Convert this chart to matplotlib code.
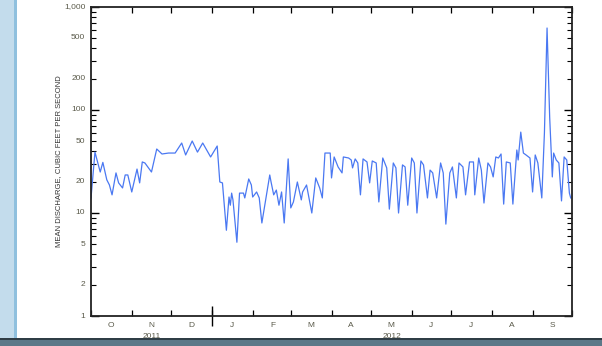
import numpy as np
import pandas as pd
import matplotlib
matplotlib.use('Agg')
import matplotlib.pyplot as plt
import matplotlib.dates as mdates
from matplotlib.ticker import FixedLocator, NullFormatter
from matplotlib.patches import Rectangle

#-------------------------------------------------------------------------------
# daily mean discharge, water year 2012 (days counted from 2011-10-01)
#-------------------------------------------------------------------------------
day_offsets = [0, 3, 7, 9, 12, 14, 16, 19, 21, 24, 26, 28, 31, 35, 37, 39, 41, 46,
               50, 54, 59, 64, 69, 72, 77, 81, 85, 91, 96, 98, 100, 103, 105, 106,
               107, 108, 111, 113, 116, 117, 120, 122, 123, 126, 128, 130, 136, 137,
               139, 141, 143, 145, 147, 150, 152, 154, 157, 160, 161, 164, 168, 171,
               174, 176, 178, 182, 183, 185, 188, 191, 192, 196, 198, 199, 201, 203,
               205, 207, 210, 212, 214, 217, 219, 222, 225, 227, 230, 232, 234, 237,
               239, 241, 244, 246, 248, 251, 253, 256, 258, 260, 263, 266, 268, 270,
               273, 275, 278, 280, 283, 285, 288, 291, 292, 295, 297, 299, 302, 304,
               306, 308, 310, 312, 314, 316, 319, 321, 324, 325, 327, 329, 331, 334,
               336, 338, 340, 343, 345, 347, 349, 351, 352, 354, 356, 358, 360, 362,
               364, 365]
discharge = [14, 39, 25, 31, 21, 18.7, 15, 24.5, 19.6, 17.5, 23.4, 23.4, 16, 26.7, 19.6,
             31.3, 30.6, 25, 41.8, 37.4, 38.2, 38.2, 47.8, 36.6, 50, 39, 47.8, 35, 44.7,
             20, 19.6, 6.8, 14.3, 11.9, 15.6, 13.4, 5.2, 15.6, 15.6, 14, 21.4, 18.7,
             14.3, 16, 14, 8, 23.4, 20, 15, 16.7, 11.9, 16, 8, 33.5, 11.2, 12.8, 20,
             13.4, 16, 18.7, 10, 21.9, 17.5, 14, 38.2, 38.2, 21.9, 35, 28, 24.5, 35,
             34.2, 32.7, 27.4, 33.5, 30.6, 15, 33.5, 31.3, 19.6, 32, 30.6, 12.8, 34.2,
             27.4, 10.9, 30.6, 27.4, 10, 29.3, 28, 11.9, 34.2, 30.6, 10, 32, 29.3, 14,
             26.1, 24.5, 14, 30.6, 24.5, 7.8, 24.5, 28, 14, 30.6, 28, 15, 31.3, 31.3,
             15, 34.2, 26.1, 12.5, 30.6, 28, 22.4, 35, 34.2, 37.4, 12.2, 31.3, 30.6,
             12.2, 40.9, 32.7, 61, 38.2, 36.6, 34.2, 16, 36.6, 30.6, 14, 60, 625, 85,
             22.4, 38.2, 32.7, 30.6, 13.1, 35, 32.7, 15.6, 14]
month_letters = ['O', 'N', 'D', 'J', 'F', 'M', 'A', 'M', 'J', 'J', 'A', 'S']
year_labels = ['2011', '2012']
y_labels = [1, 2, 5, 10, 20, 50, 100, 200, 500, 1000]

start = pd.Timestamp('2011-10-01')
end = pd.Timestamp('2012-10-01')
dates = start + pd.to_timedelta(day_offsets, unit='D')

plt.rcParams['font.family'] = ['Liberation Sans Narrow', 'Liberation Sans', 'DejaVu Sans']
fig = plt.figure(figsize=(6.02, 3.46), dpi=100)
fig.patch.set_facecolor('white')

# page decorations of the screenshot (kept behind the axes)
fig.patches.append(Rectangle((0, 0), 0.027, 1, transform=fig.transFigure,
                             facecolor='#c3dcec', edgecolor='none', zorder=-2))
fig.patches.append(Rectangle((0.024, 0), 0.005, 1, transform=fig.transFigure,
                             facecolor='#8fc0de', edgecolor='none', zorder=-2))
fig.patches.append(Rectangle((0, 0), 1, 0.024, transform=fig.transFigure,
                             facecolor='#5c7888', edgecolor='none', zorder=-2))
fig.patches.append(Rectangle((0, 0.018), 1, 0.006, transform=fig.transFigure,
                             facecolor='#2f3d46', edgecolor='none', zorder=-2))

ax = fig.add_axes([0.1512, 0.0867, 0.7990, 0.8931])
ax.plot(dates, discharge, color='#4a78f2', linewidth=0.9)

ax.set_yscale('log')
ax.set_ylim(1, 1000)
ax.set_xlim(start, end)

# y ticks
ax.yaxis.set_major_locator(FixedLocator([1, 10, 100, 1000]))
ax.yaxis.set_minor_locator(FixedLocator([m * 10 ** e for e in range(3) for m in range(2, 10)]))
ax.yaxis.set_major_formatter(NullFormatter())
ax.yaxis.set_minor_formatter(NullFormatter())
ax.tick_params(axis='y', which='major', direction='in', length=6, width=1, right=True)
ax.tick_params(axis='y', which='minor', direction='in', length=3.5, width=0.8, right=True)
for v in y_labels:
    ax.text(-0.012, v, f'{v:,}', transform=ax.get_yaxis_transform(), ha='right',
            va='center', fontsize=6, color='#5a5a4a')

# x ticks: month boundaries, letters mid-month
ax.xaxis.set_major_locator(mdates.MonthLocator())
ax.xaxis.set_major_formatter(NullFormatter())
ax.xaxis.set_minor_locator(mdates.MonthLocator(bymonthday=16))
mids = ax.xaxis.get_minor_locator()()
ax.set_xticks(mids, minor=True)
ax.set_xticklabels(month_letters, minor=True)
ax.tick_params(axis='x', which='major', direction='in', length=4, width=0.9, top=True)
ax.tick_params(axis='x', which='minor', length=0, pad=4, labelsize=6, labelcolor='#5a5a4a')

# year boundary tick
sec = ax.secondary_xaxis('bottom')
sec.set_xticks([mdates.date2num(pd.Timestamp('2012-01-01'))])
sec.set_xticklabels([''])
sec.tick_params(direction='inout', length=15, width=1.0)
sec.spines['bottom'].set_visible(False)

# year labels
year_mid = [pd.Timestamp('2011-11-16'), pd.Timestamp('2012-05-17')]
for d, lab in zip(year_mid, year_labels):
    ax.text(d, -0.066, lab, transform=ax.get_xaxis_transform(), ha='center',
            va='center', fontsize=6, color='#5a5a4a', zorder=10)

for s in ax.spines.values():
    s.set_linewidth(1.3)
    s.set_color('#222222')

fig.text(0.098, 0.533, 'MEAN DISCHARGE, CUBIC FEET PER SECOND', rotation=90,
         ha='center', va='center', fontsize=5.5, color='#333333')

plt.savefig('out.png', dpi=100)
